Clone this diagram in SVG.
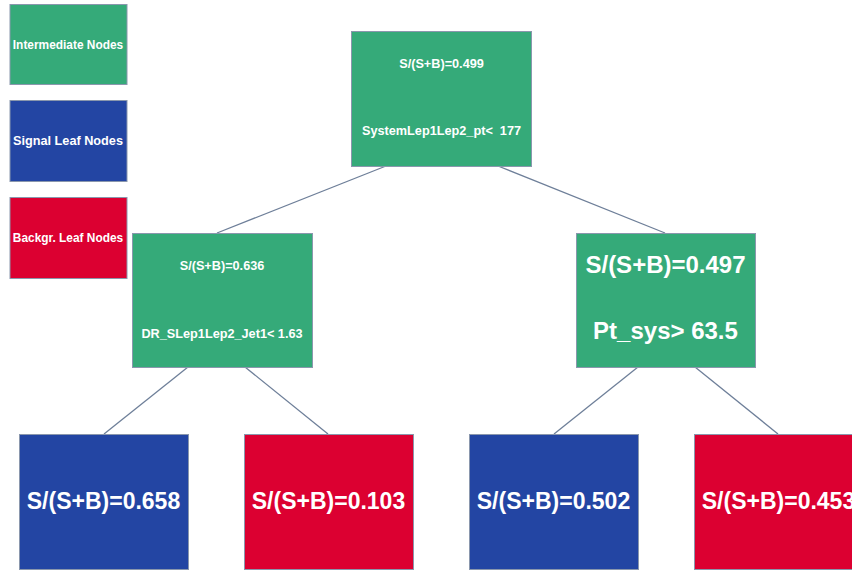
<svg xmlns="http://www.w3.org/2000/svg" width="852" height="570" viewBox="0 0 852 570">
<style>
.box{stroke:#8a97ad;stroke-width:1}
.int{fill:#35aa79}
.sig{fill:#2345a3}
.bkg{fill:#dc0031}
text{font-family:"Liberation Sans",Arial,sans-serif;font-weight:bold;fill:#ffffff;text-anchor:middle;white-space:pre}
.s{font-size:12.7px}
.l{font-size:11.9px}
.b{font-size:24px}
.m{font-size:23px}
#connectors line{stroke:#6e7f99;stroke-width:1.3}
</style>
<rect width="852" height="570" fill="#ffffff"/>
<g id="connectors">
<line x1="386" y1="166" x2="217" y2="233"/>
<line x1="498" y1="166" x2="665" y2="233"/>
<line x1="188" y1="367" x2="104" y2="434"/>
<line x1="245" y1="367" x2="328" y2="434"/>
<line x1="638" y1="367" x2="554" y2="434"/>
<line x1="695" y1="367" x2="778" y2="434"/>
</g>
<g id="legend-intermediate"><rect class="box int" x="10" y="4.5" width="117" height="80"/><text class="l" x="68" y="49">Intermediate Nodes</text></g>
<g id="legend-signal"><rect class="box sig" x="10" y="100.5" width="117" height="81"/><text class="s" x="68" y="145">Signal Leaf Nodes</text></g>
<g id="legend-background"><rect class="box bkg" x="10" y="197.5" width="117" height="81"/><text class="l" x="68" y="242">Backgr. Leaf Nodes</text></g>
<g id="root"><rect class="box int" x="351.5" y="31.5" width="180" height="135"/><text class="s" x="441.5" y="68">S/(S+B)=0.499</text><text class="s" x="441.5" y="135" xml:space="preserve">SystemLep1Lep2_pt&lt;  177</text></g>
<g id="node-left"><rect class="box int" x="132.5" y="233.5" width="180" height="134"/><text class="s" x="222" y="270">S/(S+B)=0.636</text><text class="s" x="222" y="337.5">DR_SLep1Lep2_Jet1&lt; 1.63</text></g>
<g id="node-right"><rect class="box int" x="576.5" y="233.5" width="179" height="134"/><text class="b" x="665.5" y="272.5">S/(S+B)=0.497</text><text class="b" x="665.5" y="339">Pt_sys&gt; 63.5</text></g>
<g id="leaf-1"><rect class="box sig" x="19.5" y="434.5" width="169" height="135"/><text class="m" x="103.5" y="509">S/(S+B)=0.658</text></g>
<g id="leaf-2"><rect class="box bkg" x="244.5" y="434.5" width="169" height="135"/><text class="m" x="328.5" y="509">S/(S+B)=0.103</text></g>
<g id="leaf-3"><rect class="box sig" x="469.5" y="434.5" width="169" height="135"/><text class="m" x="553.5" y="508.5">S/(S+B)=0.502</text></g>
<g id="leaf-4"><rect class="box bkg" x="694.5" y="434.5" width="169" height="135"/><text class="m" x="778.5" y="508.5">S/(S+B)=0.453</text></g>
</svg>
